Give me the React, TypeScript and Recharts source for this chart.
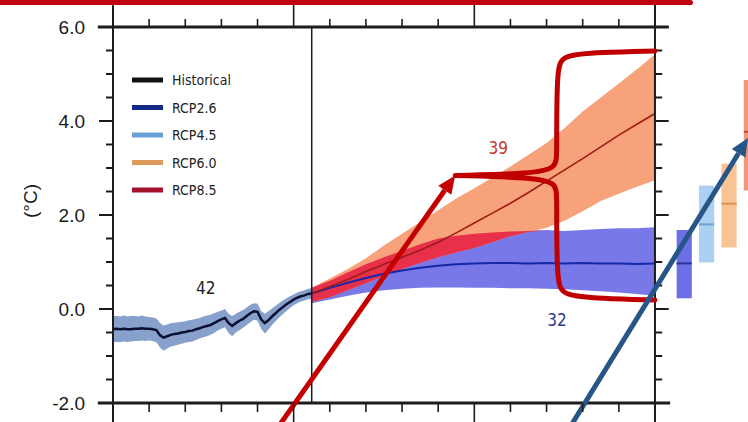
import React from "react";
import {
  Area,
  ComposedChart,
  Label,
  Legend,
  Line,
  ReferenceArea,
  ReferenceDot,
  ReferenceLine,
  XAxis,
  YAxis,
} from "recharts";

// annual CMIP5 multi-model mean, historical run (1950..2005)
const HIST_START = 1950;
const histMean = [
  -0.43, -0.42, -0.43, -0.42, -0.43, -0.43, -0.42, -0.42, -0.41, -0.42,
  -0.42, -0.43, -0.45, -0.56, -0.61, -0.58, -0.55, -0.53, -0.52, -0.5,
  -0.49, -0.47, -0.46, -0.43, -0.41, -0.38, -0.36, -0.34, -0.3, -0.26,
  -0.22, -0.19, -0.3, -0.36, -0.3, -0.25, -0.21, -0.15, -0.09, -0.05,
  -0.06, -0.22, -0.3, -0.24, -0.16, -0.09, -0.02, 0.04, 0.1, 0.15,
  0.2, 0.24, 0.27, 0.29, 0.32, 0.33,
];
const histLow = [
  -0.7, -0.7, -0.71, -0.69, -0.7, -0.69, -0.68, -0.68, -0.67, -0.68,
  -0.67, -0.68, -0.71, -0.82, -0.89, -0.84, -0.8, -0.78, -0.76, -0.74,
  -0.72, -0.7, -0.69, -0.66, -0.63, -0.6, -0.58, -0.55, -0.51, -0.46,
  -0.42, -0.39, -0.51, -0.58, -0.5, -0.45, -0.4, -0.34, -0.28, -0.23,
  -0.25, -0.42, -0.52, -0.44, -0.34, -0.26, -0.18, -0.11, -0.04, 0.02,
  0.08, 0.12, 0.16, 0.18, 0.21, 0.22,
];
const histHigh = [
  -0.15, -0.15, -0.16, -0.14, -0.16, -0.15, -0.15, -0.16, -0.14, -0.16,
  -0.17, -0.18, -0.2, -0.3, -0.35, -0.33, -0.3, -0.29, -0.28, -0.27,
  -0.26, -0.24, -0.23, -0.21, -0.19, -0.16, -0.14, -0.12, -0.09, -0.06,
  -0.03, 0.0, -0.1, -0.15, -0.1, -0.06, -0.02, 0.03, 0.09, 0.12,
  0.11, -0.04, -0.1, -0.05, 0.01, 0.07, 0.13, 0.18, 0.23, 0.27,
  0.31, 0.35, 0.38, 0.4, 0.43, 0.44,
];

// scenario runs, 5-year steps
const rcpYears = [
  2005, 2010, 2015, 2020, 2025, 2030, 2035, 2040, 2045, 2050,
  2055, 2060, 2065, 2070, 2075, 2080, 2085, 2090, 2095, 2100,
];
const rcp26Mean = [
  0.33, 0.45, 0.56, 0.66, 0.75, 0.82, 0.88, 0.92, 0.95, 0.97,
  0.98, 0.98, 0.97, 0.98, 0.97, 0.98, 0.97, 0.97, 0.96, 0.97,
];
const rcp26Low = [
  0.12, 0.2, 0.28, 0.35, 0.4, 0.43, 0.45, 0.46, 0.46, 0.45,
  0.45, 0.44, 0.44, 0.43, 0.42, 0.4, 0.38, 0.35, 0.32, 0.28,
];
const rcp26High = [
  0.45, 0.6, 0.78, 0.95, 1.1, 1.24, 1.38, 1.5, 1.56, 1.6,
  1.63, 1.65, 1.66, 1.68, 1.66, 1.68, 1.7, 1.72, 1.72, 1.74,
];
const rcp85Mean = [
  0.33, 0.48, 0.63, 0.8, 0.95, 1.1, 1.25, 1.42, 1.62, 1.83,
  2.04, 2.25, 2.48, 2.72, 2.96, 3.2, 3.45, 3.7, 3.93, 4.16,
];
const rcp85Low = [
  0.15, 0.25, 0.4, 0.55, 0.7, 0.85, 0.98, 1.1, 1.2, 1.3,
  1.42, 1.55, 1.64, 1.73, 1.88, 2.08, 2.3, 2.45, 2.6, 2.74,
];
const rcp85High = [
  0.45, 0.65, 0.85, 1.08, 1.35, 1.6, 1.85, 2.1, 2.35, 2.57,
  2.8, 3.03, 3.28, 3.53, 3.85, 4.2, 4.5, 4.8, 5.1, 5.42,
];

// 2081-2100 mean and range per scenario (bars right of the panel)
const boxNames = ["RCP2.6", "RCP4.5", "RCP6.0", "RCP8.5"];
const boxLow = [0.23, 0.99, 1.31, 2.52];
const boxMean = [0.97, 1.8, 2.24, 3.77];
const boxHigh = [1.68, 2.63, 3.09, 4.87];
const boxFill = ["#6c70e4", "#acd0f2", "#f9c394", "#f4957a"];
const boxLine = ["#2a32a0", "#6fa2d8", "#e0904e", "#c8483a"];

// number of models
const histModels = 42;
const rcp85Models = 39;
const rcp26Models = 32;

const legendNames = ["Historical", "RCP2.6", "RCP4.5", "RCP6.0", "RCP8.5"];
const legendColors = ["#111111", "#13298a", "#6aa0d8", "#dc9a5c", "#a3122a"];

const xTicks = [
  1950, 1960, 1970, 1980, 1990, 2000, 2010, 2020, 2030, 2040, 2050, 2060,
  2070, 2080, 2090, 2100,
];
const majorYears = [1950, 2000, 2050, 2100];
const yTicks = [
  -2, -1.5, -1, -0.5, 0, 0.5, 1, 1.5, 2, 2.5, 3, 3.5, 4, 4.5, 5, 5.5, 6,
];

// annotation brace around the RCP8.5 / RCP2.6 spread (B-spline control points)
const bracket = [
  { year: 2100, v: 5.49 },
  { year: 2085, v: 5.46 },
  { year: 2074.5, v: 5.4 },
  { year: 2072.8, v: 5.15 },
  { year: 2072.8, v: 3.3 },
  { year: 2072.8, v: 3.0 },
  { year: 2066, v: 2.88 },
  { year: 2044.7, v: 2.84 },
  { year: 2044.7, v: 2.84 },
  { year: 2044.7, v: 2.84 },
  { year: 2066, v: 2.8 },
  { year: 2072.8, v: 2.68 },
  { year: 2072.8, v: 2.4 },
  { year: 2072.8, v: 0.55 },
  { year: 2074.5, v: 0.29 },
  { year: 2085, v: 0.22 },
  { year: 2100, v: 0.19 },
];

type Row = Record<string, number | number[] | undefined>;

const rows: Row[] = histMean.map((m, i) => ({
  year: HIST_START + i,
  hist: m,
  histBand: [histLow[i], histHigh[i]],
}));
rcpYears.forEach((yr, i) => {
  let row = rows.find((r) => r.year === yr);
  if (!row) {
    row = { year: yr };
    rows.push(row);
  }
  const lo = Math.max(rcp85Low[i], rcp26Low[i]);
  const hi = Math.min(rcp85High[i], rcp26High[i]);
  row.r26 = rcp26Mean[i];
  row.r26Band = [rcp26Low[i], rcp26High[i]];
  row.r85 = rcp85Mean[i];
  row.r85Band = [rcp85Low[i], rcp85High[i]];
  row.overlap = hi > lo ? [lo, hi] : [hi, hi];
});

const FONT = "'Liberation Sans', Arial, sans-serif";
const NARROW = "'Liberation Sans Narrow', 'DejaVu Sans Condensed', 'Arial Narrow', sans-serif";
const AXIS = "#1c1c1c";

const BottomTick = (props: any) => {
  const { x, y, payload } = props;
  const major = majorYears.includes(payload.value);
  return <line x1={x} x2={x} y1={y} y2={y + (major ? 20 : 9)} stroke={AXIS} strokeWidth={1.6} />;
};

const TopTick = (props: any) => {
  const { x, y, payload } = props;
  const major = majorYears.includes(payload.value);
  return <line x1={x} x2={x} y1={y} y2={y - (major ? 22 : 8)} stroke={AXIS} strokeWidth={1.6} />;
};

const LeftTick = (props: any) => {
  const { x, y, payload } = props;
  const v = payload.value as number;
  const major = v % 2 === 0;
  return (
    <g>
      <line x1={x - (major ? 14 : 7)} x2={x} y1={y} y2={y} stroke={AXIS} strokeWidth={2} />
      {major ? (
        <text x={x - 28} y={y} dy="0.36em" textAnchor="end" fontFamily={FONT} fontSize={19} fill="#1a1a1a">
          {v.toFixed(1)}
        </text>
      ) : null}
    </g>
  );
};

const arrowShape = (color: string) => (props: any) => {
  const { x1, y1, x2, y2 } = props;
  const ang = Math.atan2(y2 - y1, x2 - x1);
  const len = 18;
  const half = 8;
  const bx = x2 - len * Math.cos(ang);
  const by = y2 - len * Math.sin(ang);
  const px = -Math.sin(ang) * half;
  const py = Math.cos(ang) * half;
  return (
    <g>
      <line x1={x1} y1={y1} x2={bx} y2={by} stroke={color} strokeWidth={5} />
      <polygon points={`${x2},${y2} ${bx + px},${by + py} ${bx - px},${by - py}`} fill={color} />
    </g>
  );
};

const countLabel = (text: number, color: string) => (props: any) => (
  <text x={props.cx} y={props.cy} dy="0.36em" textAnchor="middle" fontFamily={NARROW} fontSize={17} fill={color}>
    {text}
  </text>
);

const LegendList = () => (
  <svg width={110} height={125} style={{ display: "block" }}>
    {legendNames.map((name, i) => (
      <g key={name}>
        <line x1={0} x2={31} y1={8 + i * 27.5} y2={8 + i * 27.5} stroke={legendColors[i]} strokeWidth={5} />
        <text x={40} y={8 + i * 27.5} dy="0.36em" fontFamily={NARROW} fontSize={14} fill="#222">
          {name}
        </text>
      </g>
    ))}
  </svg>
);

const frame = (a: [number, number], b: [number, number], w: number) => (
  <ReferenceLine
    segment={[
      { x: a[0], y: a[1] },
      { x: b[0], y: b[1] },
    ]}
    stroke={AXIS}
    strokeWidth={w}
    ifOverflow="visible"
  />
);

export default function App() {
  return (
    <div style={{ position: "absolute", left: 0, top: 0, width: 748, height: 422, background: "#fff" }}>
      <div
        style={{
          position: "absolute",
          left: 0,
          top: 0,
          width: 693,
          height: 5,
          background: "#c0000e",
          borderRadius: "0 3px 3px 0",
          zIndex: 2,
        }}
      />
      <ComposedChart width={748} height={422} data={rows} margin={{ top: 0, right: 0, bottom: 0, left: 0 }}>
        <XAxis
          dataKey="year"
          type="number"
          domain={[1950, 2125.75]}
          ticks={xTicks}
          interval={0}
          height={19}
          axisLine={false}
          tickLine={false}
          tickSize={0}
          tickMargin={0}
          tick={BottomTick}
        />
        <XAxis
          xAxisId="top"
          orientation="top"
          dataKey="year"
          type="number"
          domain={[1950, 2125.75]}
          ticks={xTicks}
          interval={0}
          height={27}
          axisLine={false}
          tickLine={false}
          tickSize={0}
          tickMargin={0}
          tick={TopTick}
        />
        <YAxis
          type="number"
          domain={[-2, 6]}
          ticks={yTicks}
          interval={0}
          width={113}
          axisLine={false}
          tickLine={false}
          tickSize={0}
          tickMargin={0}
          tick={LeftTick}
        >
          <Label
            content={(p: any) => {
              const vb = p.viewBox || { x: 0, y: 0, height: 376 };
              const cx = vb.x + 30;
              const cy = vb.y + vb.height / 2 - 14;
              return (
                <text
                  x={cx}
                  y={cy}
                  transform={`rotate(-90 ${cx} ${cy})`}
                  textAnchor="middle"
                  dy="0.36em"
                  fontFamily={FONT}
                  fontSize={19}
                  fill="#1a1a1a"
                >
                  (°C)
                </text>
              );
            }}
          />
        </YAxis>

        <Legend
          layout="vertical"
          align="center"
          verticalAlign="middle"
          content={() => <LegendList />}
          wrapperStyle={{ left: 132, top: 72, width: 110, height: 125 }}
        />

        <Area type="linear" dataKey="histBand" stroke="none" fill="#87a1cc" fillOpacity={1} isAnimationActive={false} />
        <Area type="linear" dataKey="r26Band" stroke="none" fill="#7878e8" fillOpacity={1} isAnimationActive={false} />
        <Area type="linear" dataKey="r85Band" stroke="none" fill="#f8a27c" fillOpacity={1} isAnimationActive={false} />
        <Area type="linear" dataKey="overlap" stroke="none" fill="#e8304a" fillOpacity={1} isAnimationActive={false} />
        <Line type="linear" dataKey="hist" stroke="#0b1030" strokeWidth={2.5} dot={false} isAnimationActive={false} />
        <Line type="linear" dataKey="r26" stroke="#1428a8" strokeWidth={2} dot={false} isAnimationActive={false} />
        <Line type="linear" dataKey="r85" stroke="#9c1c18" strokeWidth={1.6} dot={false} isAnimationActive={false} />

        {boxNames.map((name, i) => (
          <ReferenceArea
            key={name}
            x1={2106 + i * 6.2}
            x2={2110.2 + i * 6.2}
            y1={boxLow[i]}
            y2={boxHigh[i]}
            fill={boxFill[i]}
            fillOpacity={1}
            stroke="none"
            ifOverflow="visible"
          />
        ))}
        {boxNames.map((name, i) => (
          <ReferenceLine
            key={name + "-mean"}
            segment={[
              { x: 2106 + i * 6.2, y: boxMean[i] },
              { x: 2110.2 + i * 6.2, y: boxMean[i] },
            ]}
            stroke={boxLine[i]}
            strokeWidth={2}
            ifOverflow="visible"
          />
        ))}

        {frame([1945.8, 6], [2103.8, 6], 3)}
        {frame([1945.8, -2], [2104.2, -2], 3)}
        {frame([1950, 6.45], [1950, -2.6], 2)}
        {frame([2100, 6.55], [2100, -2.6], 2)}
        {frame([2005, 6], [2005, -2], 1.5)}
        {yTicks.map((v) => (
          <ReferenceLine
            key={"rt" + v}
            segment={[
              { x: 2100, y: v },
              { x: 2100 + (v % 2 === 0 ? 3.8 : 2), y: v },
            ]}
            stroke={AXIS}
            strokeWidth={2}
            ifOverflow="visible"
          />
        ))}

        <ReferenceDot x={1975.7} y={0.45} r={0} ifOverflow="visible" shape={countLabel(histModels, "#222")} />
        <ReferenceDot x={2056.6} y={3.42} r={0} ifOverflow="visible" shape={countLabel(rcp85Models, "#c03a24")} />
        <ReferenceDot x={2072.9} y={-0.23} r={0} ifOverflow="visible" shape={countLabel(rcp26Models, "#2a3a90")} />

        <Line
          data={bracket}
          type="basis"
          dataKey="v"
          stroke="#c00000"
          strokeWidth={5}
          strokeLinejoin="round"
          strokeLinecap="round"
          dot={false}
          isAnimationActive={false}
        />
        <ReferenceLine
          segment={[
            { x: 1994.9, y: -2.6 },
            { x: 2044.7, y: 2.84 },
          ]}
          ifOverflow="visible"
          shape={arrowShape("#c40000")}
        />
        <ReferenceLine
          segment={[
            { x: 2075.8, y: -2.6 },
            { x: 2125.75, y: 3.64 },
          ]}
          ifOverflow="visible"
          shape={arrowShape("#275587")}
        />
      </ComposedChart>
    </div>
  );
}
